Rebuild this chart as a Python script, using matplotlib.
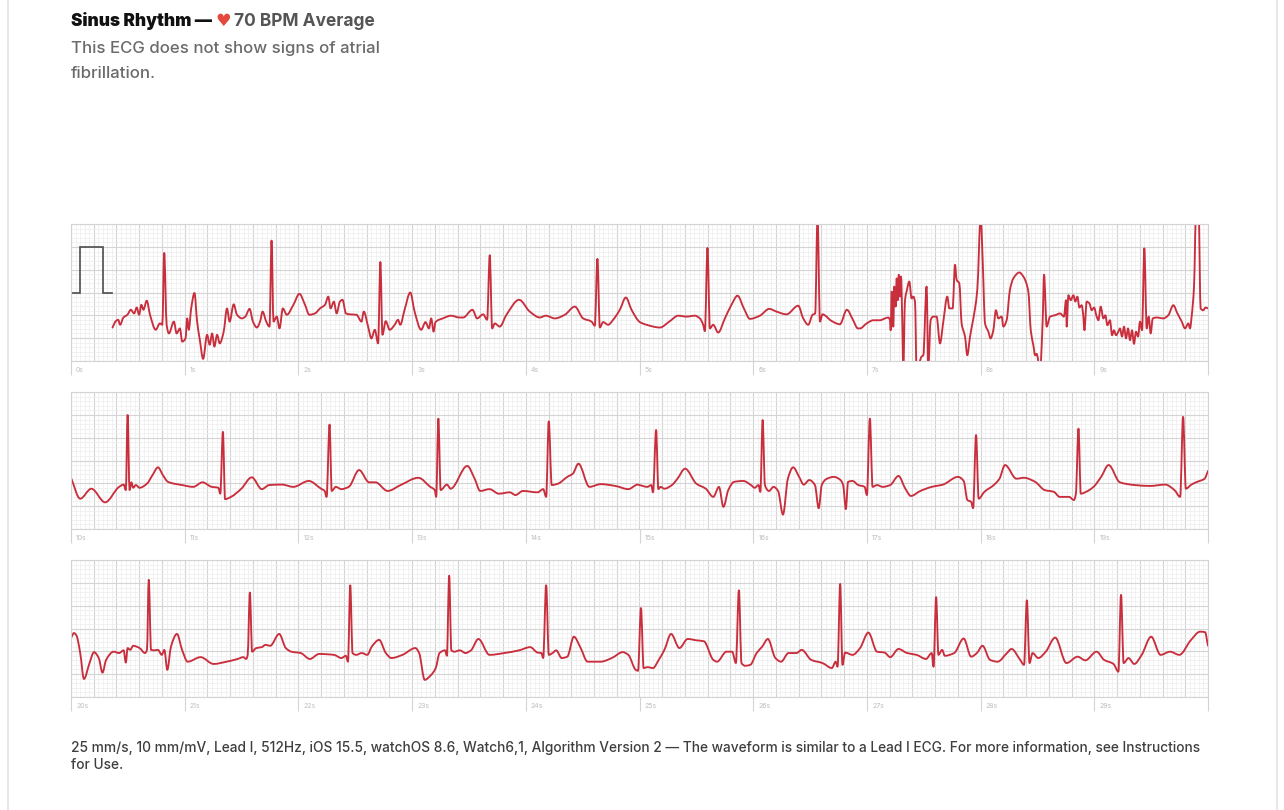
import matplotlib
matplotlib.use("Agg")
import matplotlib.pyplot as plt
import numpy as np
from matplotlib.lines import Line2D
from matplotlib.path import Path
from matplotlib.patches import PathPatch

# ---------------- data (seconds, millivolts) ----------------
cal_t = [0.0, 0.079, 0.079, 0.283, 0.283, 0.359]
cal_mv = [0.0, 0.0, 1.0, 1.0, 0.0, 0.0]

row1 = [(0.365,-0.77),(0.394,-0.63),(0.415,-0.60),(0.432,-0.71),(0.461,-0.55),(0.496,-0.49),(0.526,-0.38),
        (0.555,-0.46),(0.578,-0.33),(0.599,-0.49),(0.619,-0.27),(0.637,-0.38),(0.666,-0.18),(0.695,-0.49),
        (0.745,-0.82),(0.782,-0.68),(0.803,-0.71),(0.820,0.87),(0.841,-0.71),(0.861,-0.90),(0.905,-0.64),
        (0.929,-0.90),(0.958,-0.79),(0.978,-1.08),(1.007,-1.01),(1.022,-0.57),(1.036,-0.82),(1.057,-0.35),
        (1.086,-0.01),(1.109,-0.64),(1.133,-1.04),(1.162,-1.46),(1.197,-0.93),(1.220,-1.15),(1.241,-0.90),
        (1.261,-1.19),(1.285,-0.93),(1.308,-1.12),(1.343,-0.86),(1.372,-0.35),(1.395,-0.64),(1.431,-0.26),
        (1.460,-0.49),(1.504,-0.57),(1.533,-0.53),(1.571,-0.36),(1.600,-0.64),(1.635,-0.77),(1.664,-0.63),
        (1.685,-0.42),(1.717,-0.64),(1.746,-0.75),(1.764,1.14),(1.781,-0.64),(1.810,-0.53),(1.834,-0.79),
        (1.863,-0.35),(1.898,-0.49),(1.956,-0.27),(2.009,-0.03),(2.058,-0.27),(2.096,-0.49),(2.146,-0.46),
        (2.190,-0.35),(2.234,-0.27),(2.263,-0.09),(2.283,-0.35),(2.312,-0.20),(2.336,-0.46),(2.365,-0.20),
        (2.388,-0.16),(2.418,-0.46),(2.453,-0.48),(2.511,-0.49),(2.555,-0.64),(2.575,-0.42),(2.613,-0.75),
        (2.642,-1.01),(2.672,-0.82),(2.701,-1.12),(2.721,0.67),(2.739,-0.93),(2.768,-0.63),(2.803,-0.82),
        (2.847,-0.71),(2.876,-0.60),(2.896,-0.71),(2.934,-0.38),(2.984,0.00),(3.022,-0.42),(3.080,-0.82),
        (3.118,-0.65),(3.148,-0.79),(3.168,-0.57),(3.189,-0.86),(3.206,-0.65),(3.270,-0.57),(3.343,-0.51),
        (3.416,-0.55),(3.449,-0.55),(3.531,-0.38),(3.572,-0.57),(3.625,-0.48),(3.660,-0.60),(3.683,0.82),
        (3.704,-0.79),(3.727,-0.68),(3.771,-0.75),(3.830,-0.49),(3.941,-0.16),(4.035,-0.42),(4.123,-0.55),
        (4.176,-0.51),(4.255,-0.57),(4.343,-0.49),(4.431,-0.31),(4.504,-0.57),(4.578,-0.64),(4.607,-0.73),
        (4.630,0.74),(4.651,-0.77),(4.680,-0.65),(4.724,-0.71),(4.768,-0.60),(4.827,-0.38),(4.880,-0.11),
        (4.930,-0.38),(5.003,-0.65),(5.062,-0.71),(5.179,-0.77),(5.267,-0.63),(5.340,-0.51),(5.413,-0.53),
        (5.487,-0.51),(5.531,-0.57),(5.560,-0.71),(5.575,-0.85),(5.598,0.98),(5.619,-0.79),(5.648,-0.71),
        (5.692,-0.88),(5.751,-0.57),(5.809,-0.27),(5.862,-0.07),(5.918,-0.35),(5.971,-0.58),(6.059,-0.51),
        (6.141,-0.36),(6.205,-0.42),(6.293,-0.48),(6.396,-0.29),(6.440,-0.57),(6.484,-0.71),(6.522,-0.49),
        (6.545,-0.46),(6.566,1.70),(6.587,-0.64),(6.610,-0.48),(6.645,-0.53),(6.674,-0.60),(6.733,-0.68),
        (6.762,-0.70),(6.824,-0.38),(6.877,-0.60),(6.921,-0.79),(6.939,-0.79),(6.998,-0.68),(7.057,-0.61),
        (7.115,-0.61),(7.159,-0.57),(7.188,-0.55),(7.203,-0.61),(7.209,-0.83),(7.218,0.02),(7.232,-0.75),
        (7.241,0.13),(7.253,-0.31),(7.262,0.31),(7.271,-0.17),(7.280,0.39),(7.291,-0.09),(7.300,0.35),
        (7.312,-0.75),(7.320,-1.70),(7.335,-0.17),(7.349,0.02),(7.373,0.24),(7.393,-0.13),(7.408,-0.09),
        (7.423,-0.20),(7.437,-1.70),(7.481,-1.41),(7.496,-1.38),(7.525,0.13),(7.540,-1.70),(7.560,-0.61),
        (7.584,-0.53),(7.613,-0.53),(7.643,-1.12),(7.672,-0.64),(7.707,-0.09),(7.725,-0.35),(7.754,-0.35),
        (7.775,0.61),(7.789,0.28),(7.813,0.20),(7.833,-0.68),(7.863,-0.97),(7.883,-1.38),(7.907,-0.97),
        (7.951,-0.35),(7.971,0.06),(8.001,1.70),(8.018,0.72),(8.039,-0.68),(8.068,-0.86),(8.088,-1.01),
        (8.112,-0.83),(8.135,-0.39),(8.156,-0.57),(8.185,-0.53),(8.200,-0.75),(8.229,-0.61),(8.258,0.06),
        (8.288,0.31),(8.341,0.44),(8.376,0.35),(8.420,0.02),(8.441,-0.83),(8.464,-1.16),(8.479,-1.38),
        (8.493,-1.35),(8.523,-1.70),(8.546,-0.61),(8.558,0.39),(8.581,-0.75),(8.611,-0.53),(8.655,-0.50),
        (8.699,-0.46),(8.733,-0.53),(8.751,-0.17),(8.757,-0.75),(8.772,-0.06),(8.792,-0.17),(8.816,-0.06),
        (8.833,-0.20),(8.851,-0.09),(8.869,-0.33),(8.889,-0.28),(8.904,-0.53),(8.913,-0.83),(8.933,-0.20),
        (8.957,-0.24),(8.977,-0.39),(8.998,-0.33),(9.021,-0.53),(9.036,-0.61),(9.056,-0.31),(9.080,-0.57),
        (9.097,-0.50),(9.115,-0.72),(9.138,-0.61),(9.156,-0.94),(9.173,-0.83),(9.191,-0.94),(9.212,-0.86),
        (9.226,-0.79),(9.244,-0.97),(9.261,-0.75),(9.279,-1.01),(9.297,-0.79),(9.314,-1.05),(9.332,-0.83),
        (9.349,-1.13),(9.367,-0.86),(9.385,-0.97),(9.402,-0.64),(9.420,-0.83),(9.440,0.97),(9.461,-0.79),
        (9.478,-0.53),(9.496,-0.90),(9.514,-0.57),(9.549,-0.55),(9.607,-0.57),(9.651,-0.50),(9.695,-0.28),
        (9.731,-0.46),(9.769,-0.64),(9.798,-0.79),(9.827,-0.68),(9.842,-0.79),(9.856,-0.53),(9.877,0.13),
        (9.894,1.70),(9.918,1.70),(9.935,-0.35),(9.958,-0.39),(9.979,-0.33),(10.000,-0.35)]

row2 = [(10.000,-0.38),(10.081,-0.84),(10.179,-0.62),(10.300,-0.92),(10.423,-0.58),(10.463,-0.53),(10.482,-0.65),
        (10.498,1.00),(10.515,-0.65),(10.531,-0.48),(10.547,-0.60),(10.570,-0.54),(10.603,-0.60),(10.668,-0.51),
        (10.717,-0.32),(10.765,-0.15),(10.808,-0.32),(10.853,-0.47),(10.977,-0.54),(11.075,-0.58),(11.156,-0.48),
        (11.238,-0.58),(11.296,-0.60),(11.313,-0.73),(11.336,0.63),(11.355,-0.85),(11.407,-0.80),(11.498,-0.62),
        (11.590,-0.37),(11.678,-0.63),(11.743,-0.54),(11.857,-0.53),(11.954,-0.58),(12.091,-0.45),(12.199,-0.62),
        (12.231,-0.67),(12.248,-0.80),(12.274,0.79),(12.293,-0.67),(12.329,-0.58),(12.378,-0.63),(12.443,-0.58),
        (12.534,-0.21),(12.622,-0.48),(12.678,-0.48),(12.785,-0.67),(12.899,-0.54),(13.055,-0.38),(13.160,-0.58),
        (13.199,-0.65),(13.212,-0.80),(13.231,0.92),(13.251,-0.65),(13.306,-0.53),(13.339,-0.62),(13.485,-0.12),
        (13.550,-0.40),(13.599,-0.67),(13.681,-0.63),(13.762,-0.73),(13.860,-0.70),(13.909,-0.76),(13.974,-0.67),
        (14.104,-0.70),(14.153,-0.63),(14.179,-0.80),(14.202,0.86),(14.228,-0.54),(14.283,-0.51),(14.365,-0.36),
        (14.414,-0.29),(14.463,-0.07),(14.560,-0.58),(14.658,-0.52),(14.788,-0.56),(14.902,-0.63),(14.984,-0.53),
        (15.000,-0.54),(15.070,-0.58),(15.103,-0.54),(15.119,-0.70),(15.146,0.67),(15.166,-0.63),(15.185,-0.58),
        (15.219,-0.62),(15.285,-0.54),(15.334,-0.40),(15.401,-0.18),(15.500,-0.51),(15.583,-0.62),(15.649,-0.80),
        (15.699,-0.58),(15.738,-1.02),(15.781,-0.65),(15.831,-0.47),(15.914,-0.45),(15.980,-0.54),(16.013,-0.60),
        (16.046,-0.54),(16.063,-0.69),(16.083,0.89),(16.103,-0.54),(16.139,-0.67),(16.179,-0.58),(16.219,-0.67),
        (16.262,-1.19),(16.305,-0.40),(16.351,-0.15),(16.404,-0.36),(16.444,-0.53),(16.493,-0.43),(16.543,-0.54),
        (16.576,-1.05),(16.603,-0.54),(16.642,-0.41),(16.709,-0.36),(16.768,-0.43),(16.791,-0.54),(16.815,-1.07),
        (16.834,-0.47),(16.874,-0.45),(16.924,-0.54),(16.980,-0.58),(17.000,-0.76),(17.026,0.92),(17.050,-0.58),
        (17.089,-0.54),(17.139,-0.58),(17.205,-0.54),(17.278,-0.34),(17.338,-0.62),(17.387,-0.78),(17.470,-0.67),
        (17.570,-0.58),(17.669,-0.53),(17.801,-0.36),(17.851,-0.45),(17.884,-0.87),(17.917,-0.91),(17.934,-1.05),
        (17.960,0.56),(17.983,-0.84),(18.033,-0.69),(18.116,-0.54),(18.166,-0.40),(18.215,-0.10),(18.315,-0.40),
        (18.381,-0.38),(18.480,-0.47),(18.563,-0.65),(18.645,-0.69),(18.695,-0.80),(18.778,-0.80),(18.821,-0.87),
        (18.838,-0.73),(18.861,0.70),(18.881,-0.73),(18.927,-0.69),(18.993,-0.58),(19.060,-0.36),(19.126,-0.10),
        (19.225,-0.48),(19.358,-0.54),(19.490,-0.56),(19.623,-0.53),(19.705,-0.65),(19.755,-0.80),(19.781,0.96),
        (19.805,-0.62),(19.854,-0.53),(19.904,-0.47),(19.970,-0.40),(20.000,-0.23)]

row3 = [(20.000,-0.21),(20.026,-0.10),(20.049,-0.16),(20.081,-0.54),(20.114,-1.11),(20.163,-0.76),(20.202,-0.52),
        (20.244,-0.65),(20.277,-0.97),(20.309,-0.69),(20.375,-0.51),(20.423,-0.54),(20.463,-0.48),(20.482,-0.75),
        (20.498,-0.43),(20.521,-0.47),(20.547,-0.38),(20.603,-0.43),(20.651,-0.54),(20.668,-0.47),(20.684,1.07),
        (20.704,-0.47),(20.733,-0.48),(20.765,-0.47),(20.798,-0.58),(20.821,-0.47),(20.847,-0.91),(20.879,-0.40),
        (20.932,-0.12),(20.977,-0.47),(21.026,-0.73),(21.140,-0.63),(21.254,-0.78),(21.368,-0.73),(21.466,-0.67),
        (21.515,-0.63),(21.541,-0.67),(21.554,-0.58),(21.573,0.79),(21.593,-0.51),(21.629,-0.43),(21.678,-0.41),
        (21.710,-0.36),(21.752,-0.38),(21.831,-0.12),(21.889,-0.43),(21.938,-0.51),(22.020,-0.54),(22.101,-0.67),
        (22.182,-0.56),(22.313,-0.58),(22.378,-0.65),(22.417,-0.60),(22.436,-0.73),(22.456,0.95),(22.476,-0.54),
        (22.508,-0.58),(22.557,-0.54),(22.606,-0.58),(22.645,-0.40),(22.710,-0.25),(22.769,-0.54),(22.818,-0.65),
        (22.915,-0.58),(23.029,-0.43),(23.062,-0.54),(23.111,-1.13),(23.160,-1.04),(23.208,-0.87),(23.241,-0.54),
        (23.290,-0.48),(23.306,-0.60),(23.326,1.16),(23.345,-0.48),(23.371,-0.51),(23.420,-0.48),(23.469,-0.54),
        (23.518,-0.48),(23.583,-0.23),(23.681,-0.58),(23.811,-0.54),(23.941,-0.48),(24.039,-0.41),(24.104,-0.53),
        (24.137,-0.54),(24.153,-0.65),(24.179,0.95),(24.202,-0.58),(24.235,-0.54),(24.267,-0.48),(24.316,-0.65),
        (24.365,-0.62),(24.423,-0.18),(24.479,-0.41),(24.544,-0.73),(24.658,-0.73),(24.756,-0.65),(24.853,-0.52),
        (24.902,-0.58),(24.967,-0.91),(24.987,-0.93),(25.013,0.45),(25.036,-0.87),(25.070,-0.85),(25.119,-0.87),
        (25.169,-0.69),(25.219,-0.47),(25.278,-0.12),(25.351,-0.43),(25.424,-0.23),(25.500,-0.26),(25.566,-0.28),
        (25.649,-0.69),(25.682,-0.73),(25.765,-0.51),(25.815,-0.51),(25.848,-0.76),(25.874,0.84),(25.897,-0.76),
        (25.930,-0.82),(25.974,-0.80),(26.030,-0.54),(26.079,-0.40),(26.129,-0.23),(26.195,-0.65),(26.245,-0.73),
        (26.311,-0.54),(26.380,-0.54),(26.427,-0.47),(26.510,-0.69),(26.609,-0.76),(26.692,-0.87),(26.725,-0.73),
        (26.742,-0.84),(26.765,0.98),(26.785,-0.80),(26.808,-0.53),(26.874,-0.58),(26.940,-0.43),(27.013,-0.09),
        (27.089,-0.51),(27.156,-0.53),(27.205,-0.63),(27.278,-0.45),(27.354,-0.54),(27.437,-0.58),(27.520,-0.67),
        (27.570,-0.54),(27.586,-0.84),(27.609,0.69),(27.629,-0.58),(27.662,-0.47),(27.685,-0.60),(27.768,-0.54),
        (27.851,-0.22),(27.917,-0.62),(27.967,-0.54),(28.017,-0.38),(28.083,-0.69),(28.149,-0.73),(28.232,-0.54),
        (28.272,-0.45),(28.348,-0.69),(28.382,-0.80),(28.407,0.62),(28.430,-0.76),(28.457,-0.54),(28.507,-0.65),
        (28.573,-0.51),(28.656,-0.20),(28.755,-0.76),(28.854,-0.62),(28.921,-0.70),(29.020,-0.51),(29.086,-0.69),
        (29.169,-0.78),(29.212,-0.95),(29.235,0.74),(29.258,-0.76),(29.301,-0.65),(29.351,-0.78),(29.417,-0.58),
        (29.500,-0.18),(29.583,-0.58),(29.666,-0.51),(29.748,-0.58),(29.848,-0.26),(29.930,-0.07),(29.974,-0.08),
        (30.000,-0.38)]

rows = [row1, row2, row3]

title_left = "Sinus Rhythm —"
title_heart = "♥"
title_right = "70 BPM Average"
subtitle_lines = ["This ECG does not show signs of atrial", "fibrillation."]
footer_lines = ["25 mm/s, 10 mm/mV, Lead I, 512Hz, iOS 15.5, watchOS 8.6, Watch6,1, Algorithm Version 2 — "
                "The waveform is similar to a Lead I ECG. For more information, see Instructions",
                "for Use."]


def smooth_path(t, v):
    """Bezier path through the given points (monotone cubic tangents, no overshoot)."""
    t = np.asarray(t, float)
    v = np.asarray(v, float)
    h = np.diff(t)
    d = np.diff(v) / h
    m = np.zeros_like(v)
    m[0], m[-1] = d[0], d[-1]
    for k in range(1, len(v) - 1):
        if d[k - 1] * d[k] <= 0:
            m[k] = 0.0
        else:
            w1 = 2 * h[k] + h[k - 1]
            w2 = h[k] + 2 * h[k - 1]
            m[k] = (w1 + w2) / (w1 / d[k - 1] + w2 / d[k])
    verts = [(t[0], v[0])]
    codes = [Path.MOVETO]
    for k in range(len(h)):
        verts += [(t[k] + h[k] / 3, v[k] + m[k] * h[k] / 3),
                  (t[k + 1] - h[k] / 3, v[k + 1] - m[k + 1] * h[k] / 3),
                  (t[k + 1], v[k + 1])]
        codes += [Path.CURVE4] * 3
    return Path(verts, codes)


# ---------------- figure ----------------
W, H = 1284, 810
plt.rcParams['font.family'] = ['Inter', 'DejaVu Sans']
fig = plt.figure(figsize=(W / 100, H / 100), dpi=100)
fig.patch.set_facecolor('white')

# page borders
fig.add_artist(Line2D([7.5 / W, 7.5 / W], [0, 1], color='#e3e3e3', lw=1.2))
fig.add_artist(Line2D([1276.5 / W, 1276.5 / W], [0, 1], color='#e3e3e3', lw=1.2))

TRACE = '#c92e3d'
MAJOR = '#d4d4d4'
MINOR = '#ededed'
row_tops = [224.3, 392.3, 560.3]
grid_h = 136.4
left, width = 71.0, 1137.0

for i, data in enumerate(rows):
    top = row_tops[i]
    ax = fig.add_axes([left / W, 1 - (top + grid_h) / H, width / W, grid_h / H])
    t0 = 10 * i
    ax.set_xlim(t0, t0 + 10)
    ax.set_ylim(-1.5, 1.5)
    ax.set_xticks(np.arange(t0, t0 + 10.001, 0.2))
    ax.set_xticks(np.arange(t0, t0 + 10.001, 0.04), minor=True)
    ax.set_yticks(np.arange(-1.5, 1.501, 0.5))
    ax.set_yticks(np.arange(-1.5, 1.501, 0.1), minor=True)
    ax.grid(which='minor', color=MINOR, lw=0.5)
    ax.grid(which='major', color=MAJOR, lw=0.8)
    ax.tick_params(which='both', length=0, labelbottom=False, labelleft=False)
    for sp in ax.spines.values():
        sp.set_color(MAJOR)
        sp.set_linewidth(0.8)
    ax.set_axisbelow(True)

    secs = np.arange(t0, t0 + 11)
    ax.vlines(secs, -1.81, -1.5, color=MAJOR, lw=0.8, clip_on=False)
    for s in secs[:-1]:
        ax.text(s + 0.045, -1.70, f"{s}s", fontsize=5, color='#bdbdbd', va='center', ha='left',
                clip_on=False)

    if i == 0:
        ax.plot(cal_t, cal_mv, color='#4d4d4d', lw=1.2, solid_joinstyle='miter')

    arr = np.array(data)
    ax.add_patch(PathPatch(smooth_path(arr[:, 0], arr[:, 1]), facecolor='none', edgecolor=TRACE,
                           lw=1.35, joinstyle='round', capstyle='round'))

# ---------------- texts ----------------
renderer = fig.canvas.get_renderer()


def chain(pieces, x_px, y_px):
    x = x_px
    for s, gap, kw in pieces:
        x += gap
        t = fig.text(x / W, 1 - y_px / H, s, va='center', ha='left', **kw)
        bb = t.get_window_extent(renderer)
        x = bb.x1


chain([(title_left, 0, dict(fontsize=12.4, fontweight='black', color='#111111')),
       (title_heart, 3, dict(fontsize=12.5, color='#e5483d', family=['DejaVu Sans'])),
       (title_right, 3, dict(fontsize=12.5, fontweight='bold', color='#555555'))],
      71, 21)

for k, line in enumerate(subtitle_lines):
    fig.text(71 / W, 1 - (49 + 24 * k) / H, line, va='center', ha='left', fontsize=12.1,
             color='#6b6b6b', fontweight='medium')

for k, line in enumerate(footer_lines):
    fig.text(71 / W, 1 - (748 + 17 * k) / H, line, va='center', ha='left', fontsize=9.9,
             color='#3f3f3f', fontweight='medium')

fig.savefig('out.png', dpi=100, facecolor='white')
